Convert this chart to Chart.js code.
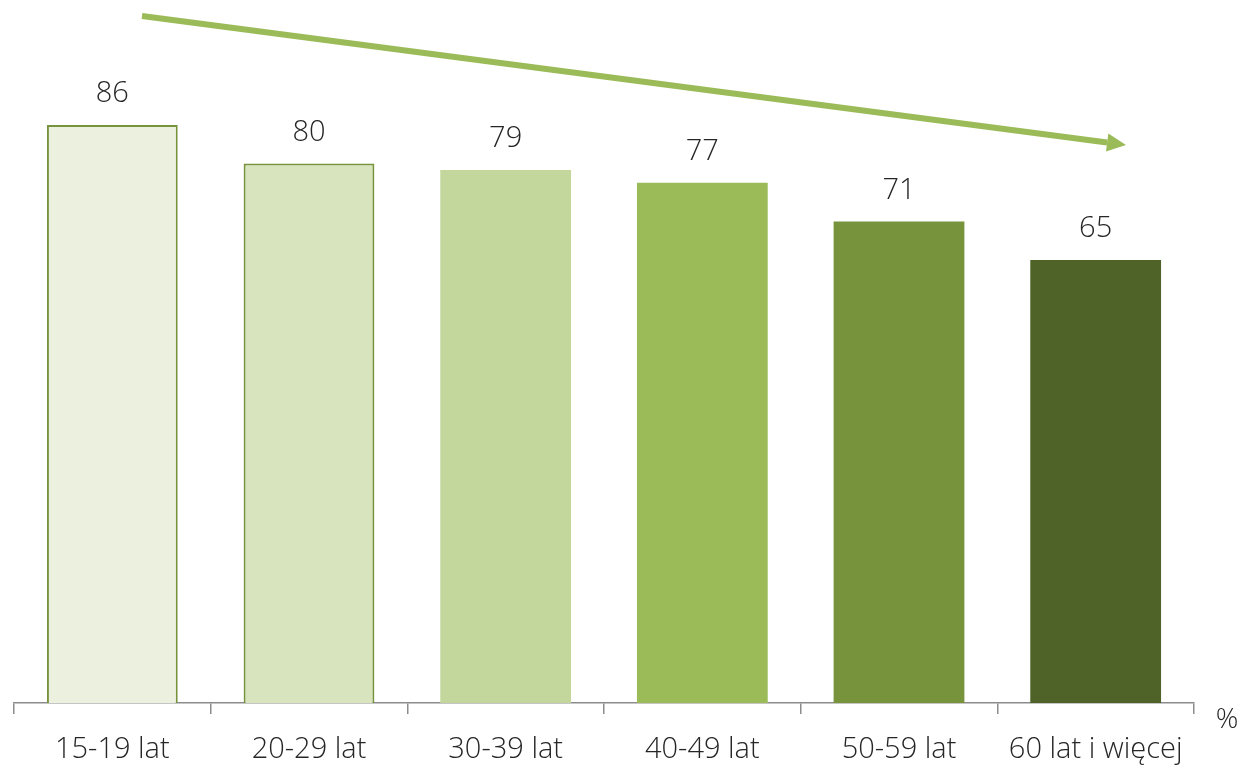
<!DOCTYPE html>
<html>
<head>
<meta charset="utf-8">
<script src="https://cdn.jsdelivr.net/npm/chart.js@4"></script>
<style>
    html, body { margin: 0; padding: 0; background: #fff; }
    #wrap { width: 1241px; height: 766px; }
</style>
</head>
<body>
<div id="wrap"><canvas id="wiekChart" width="1241" height="766"></canvas></div>
<script>
    // ── Dane ──
    const kategorie = ['15-19 lat', '20-29 lat', '30-39 lat', '40-49 lat', '50-59 lat', '60 lat i więcej'];
    const wartosci = [86, 80, 79, 77, 71, 65];
    const kolory = ['#EBF0DF', '#D7E4BD', '#C3D69B', '#9BBB59', '#77933C', '#4F6228'];
    const obramowania = [2, 2, 0, 0, 0, 0];

    // oś wartości w oryginale nie zaczyna się dokładnie od zera
    const OS_MIN = -3.9;
    const OS_MAX = 100;

    const FONT = '"Open Sans", "DejaVu Sans", sans-serif';

    // etykiety nad słupkami
    const etykietyPlugin = {
        id: 'etykiety',
        afterDatasetsDraw(chart) {
            const ctx = chart.ctx;
            const meta = chart.getDatasetMeta(0);
            ctx.save();
            ctx.font = '300 29px ' + FONT;
            ctx.fillStyle = '#262626';
            ctx.textAlign = 'center';
            ctx.textBaseline = 'middle';
            meta.data.forEach((bar, i) => {
                ctx.fillText(String(wartosci[i]), bar.x, bar.y - 31);
            });
            ctx.restore();
        }
    };

    // strzałka trendu + znak %
    const strzalkaPlugin = {
        id: 'strzalka',
        afterDraw(chart) {
            const ctx = chart.ctx;
            const x1 = 142, y1 = 16, x2 = 1126, y2 = 145;
            const ang = Math.atan2(y2 - y1, x2 - x1);
            const head = 19;
            ctx.save();
            ctx.strokeStyle = '#9BBB59';
            ctx.fillStyle = '#9BBB59';
            ctx.lineWidth = 6;
            ctx.beginPath();
            ctx.moveTo(x1, y1);
            ctx.lineTo(x2 - head * Math.cos(ang), y2 - head * Math.sin(ang));
            ctx.stroke();
            ctx.beginPath();
            ctx.moveTo(x2, y2);
            ctx.lineTo(x2 - head * Math.cos(ang) + 9 * Math.sin(ang), y2 - head * Math.sin(ang) - 9 * Math.cos(ang));
            ctx.lineTo(x2 - head * Math.cos(ang) - 9 * Math.sin(ang), y2 - head * Math.sin(ang) + 9 * Math.cos(ang));
            ctx.closePath();
            ctx.fill();

            ctx.font = '300 28px ' + FONT;
            ctx.fillStyle = '#262626';
            ctx.textAlign = 'center';
            ctx.textBaseline = 'middle';
            ctx.fillText('%', 1227, 720);
            ctx.restore();
        }
    };

    new Chart(document.getElementById('wiekChart'), {
        type: 'bar',
        data: {
            labels: kategorie,
            datasets: [{
                data: wartosci,
                base: OS_MIN,
                backgroundColor: kolory,
                borderColor: '#77933C',
                borderWidth: obramowania,
                categoryPercentage: 1,
                barPercentage: 0.665
            }]
        },
        options: {
            responsive: false,
            animation: false,
            devicePixelRatio: 1,
            layout: { padding: { left: 14, right: 47, top: 35, bottom: 0 } },
            plugins: { legend: { display: false }, tooltip: { enabled: false } },
            scales: {
                y: { display: false, min: OS_MIN, max: OS_MAX },
                x: {
                    offset: true,
                    border: { display: true, color: '#8C8C8C', width: 1.5 },
                    grid: { display: true, drawOnChartArea: false, drawTicks: true, tickLength: 11, color: '#8C8C8C', lineWidth: 1.5, offset: true },
                    ticks: { color: '#262626', font: { family: FONT, size: 29, weight: '300' }, padding: 18, maxRotation: 0, autoSkip: false },
                    afterFit(scale) { scale.height = 63; }
                }
            }
        },
        plugins: [etykietyPlugin, strzalkaPlugin]
    });
</script>
</body>
</html>
